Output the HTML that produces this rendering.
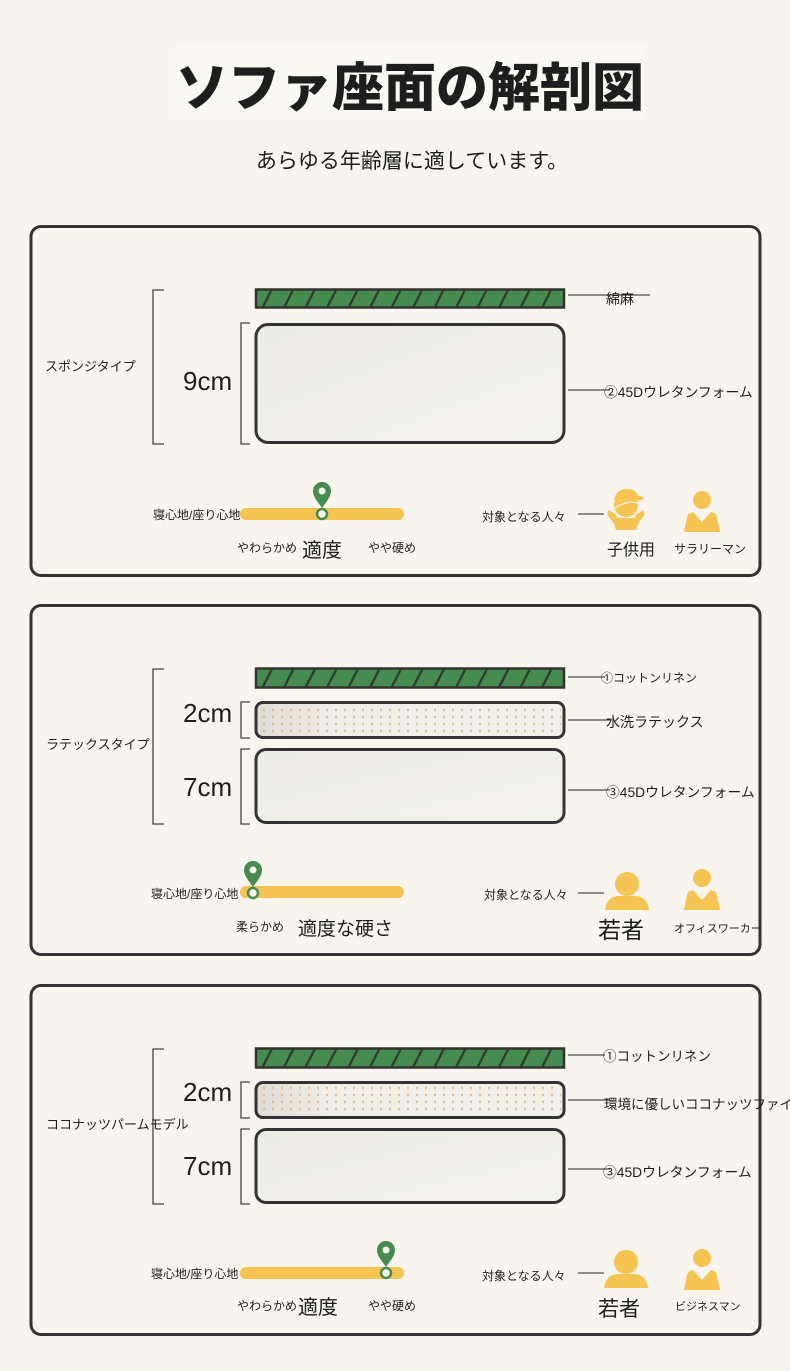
<!DOCTYPE html>
<html><head><meta charset="utf-8">
<style>
html,body{margin:0;padding:0;background:#f7f5ee;}
svg{display:block;}
text{font-family:"Liberation Sans","Noto Sans CJK JP",sans-serif;fill:#1e1e1e;}
</style></head><body>
<svg width="790" height="1371" viewBox="0 0 790 1371" xmlns="http://www.w3.org/2000/svg">
<defs>
<pattern id="stripe" x="0" y="0" width="21.5" height="40" patternUnits="userSpaceOnUse" patternTransform="skewX(-27)">
<rect width="21.5" height="40" fill="#478c4f"/>
<rect x="9.5" y="0" width="2.6" height="40" fill="#2f3a30"/>
</pattern>
<pattern id="dots" x="0" y="0" width="9" height="7" patternUnits="userSpaceOnUse">
<ellipse cx="3" cy="3" rx="1" ry="1.4" fill="#e2b98a"/>
</pattern>
<linearGradient id="foam" x1="0" y1="0" x2="1" y2="1">
<stop offset="0" stop-color="#ecebe5"/><stop offset="1" stop-color="#f3f2ec"/>
</linearGradient>
<linearGradient id="lat" x1="0" y1="0" x2="1" y2="0">
<stop offset="0" stop-color="#dedcd4"/><stop offset="0.25" stop-color="#f1efe9"/><stop offset="1" stop-color="#f2f0ea"/>
</linearGradient>
<g id="adult">
<circle cx="0" cy="-12" r="9" fill="#f5c452"/>
<path d="M-18 20 L-15 5 Q-14 1 -9 0 L0 10 L9 0 Q14 1 15 5 L18 20 Z" fill="#f5c452"/>
</g>
<g id="youth">
<circle cx="0" cy="-10" r="12" fill="#f5c452"/>
<path d="M-22 16 Q-20 2 -8 2 L8 2 Q20 2 22 16 Z" fill="#f5c452"/>
</g>
<g id="pin">
<path d="M0 0 C-4 -6 -9 -11 -9 -17 A9 9 0 0 1 9 -17 C9 -11 4 -6 0 0 Z" fill="#478c4f"/>
<circle cx="0" cy="-17" r="3.5" fill="#f7f5ee"/>
<circle cx="0" cy="6" r="5" fill="#f7f5ee" stroke="#478c4f" stroke-width="2.5"/>
</g>
</defs>

<!-- title -->
<rect x="175" y="45" width="470" height="75" fill="#f9f8f3"/>
<text x="410" y="106" font-size="52" font-weight="bold" text-anchor="middle" style="font-weight:900">ソファ座面の解剖図</text>
<text x="412" y="168" font-size="21" text-anchor="middle" fill="#333">あらゆる年齢層に適しています。</text>

<!-- panels -->
<rect x="31" y="226.5" width="729" height="349" rx="10" fill="none" stroke="#333" stroke-width="3"/>
<rect x="31" y="605.5" width="729" height="349" rx="10" fill="none" stroke="#333" stroke-width="3"/>
<rect x="31" y="985.5" width="729" height="349" rx="10" fill="none" stroke="#333" stroke-width="3"/>

<!-- ===== Panel 1 ===== -->
<path d="M164 290 H153 V444 H164" fill="none" stroke="#444" stroke-width="1.3"/>
<text x="45" y="371" font-size="13">スポンジタイプ</text>
<rect x="256" y="289.5" width="308" height="18" fill="url(#stripe)" stroke="#333" stroke-width="2.5"/>
<path d="M250 323 H241 V444 H250" fill="none" stroke="#444" stroke-width="1.3"/>
<rect x="256" y="324.5" width="308" height="118" rx="12" fill="url(#foam)" stroke="#333" stroke-width="3"/>
<text x="183" y="390" font-size="26">9cm</text>
<line x1="568" y1="295" x2="650" y2="295" stroke="#222" stroke-width="1"/>
<text x="606" y="304" font-size="14">綿麻</text>
<line x1="568" y1="390" x2="610" y2="390" stroke="#222" stroke-width="1"/>
<text x="604" y="397" font-size="13.8">②45Dウレタンフォーム</text>
<rect x="240" y="508" width="164" height="12" rx="6" fill="#f5c452"/>
<text x="153" y="519" font-size="12">寝心地/座り心地</text>
<use href="#pin" x="322" y="508"/>
<text x="237" y="552" font-size="12">やわらかめ</text>
<text x="302" y="557" font-size="20">適度</text>
<text x="368" y="552" font-size="12">やや硬め</text>
<text x="482" y="521" font-size="12">対象となる人々</text>
<line x1="578" y1="514" x2="604" y2="514" stroke="#222" stroke-width="1"/>
<g fill="#f5c452">
<circle cx="626" cy="505" r="12"/>
<path d="M614 500 Q616 489 627 489 Q636 489 638 496 L644 497 Q642 502 636 500 Z"/>
<path d="M609 510 L615 514 L618 518 L634 518 L637 514 L643 510 L645 514 L638 524 L636 530 L616 530 L614 524 L607 514 Z"/>
</g>
<path d="M615 508 Q626 500 638 503" fill="none" stroke="#f7f5ee" stroke-width="1.2"/>
<use href="#adult" x="702" y="512"/>
<text x="607" y="555" font-size="16">子供用</text>
<text x="674" y="553" font-size="12">サラリーマン</text>

<!-- ===== Panel 2 ===== -->
<path d="M164 669 H153 V824 H164" fill="none" stroke="#444" stroke-width="1.3"/>
<text x="46" y="749" font-size="13">ラテックスタイプ</text>
<rect x="256" y="668.5" width="308" height="19" fill="url(#stripe)" stroke="#333" stroke-width="2.5"/>
<path d="M250 702 H241 V738 H250" fill="none" stroke="#444" stroke-width="1.3"/>
<rect x="256" y="702.5" width="308" height="35" rx="7" fill="url(#lat)" stroke="#333" stroke-width="3"/>
<rect x="259" y="705" width="302" height="30" rx="5" fill="url(#dots)"/>
<path d="M250 749 H241 V824 H250" fill="none" stroke="#444" stroke-width="1.3"/>
<rect x="256" y="749.5" width="308" height="73" rx="10" fill="url(#foam)" stroke="#333" stroke-width="3"/>
<text x="183" y="722" font-size="26">2cm</text>
<text x="183" y="796" font-size="26">7cm</text>
<line x1="568" y1="677" x2="605" y2="677" stroke="#222" stroke-width="1"/>
<text x="601" y="682" font-size="12">①コットンリネン</text>
<line x1="568" y1="720" x2="610" y2="720" stroke="#222" stroke-width="1"/>
<text x="606" y="727" font-size="14">水洗ラテックス</text>
<line x1="568" y1="790" x2="610" y2="790" stroke="#222" stroke-width="1"/>
<text x="606" y="797" font-size="13.8">③45Dウレタンフォーム</text>
<rect x="240" y="886" width="164" height="12" rx="6" fill="#f5c452"/>
<text x="151" y="898" font-size="12">寝心地/座り心地</text>
<use href="#pin" x="253" y="887"/>
<text x="236" y="931" font-size="12">柔らかめ</text>
<text x="298" y="935" font-size="19">適度な硬さ</text>
<text x="484" y="899" font-size="12">対象となる人々</text>
<line x1="578" y1="893" x2="604" y2="893" stroke="#222" stroke-width="1"/>
<use href="#youth" x="627" y="894"/>
<use href="#adult" x="702" y="890"/>
<text x="598" y="938" font-size="23">若者</text>
<text x="674" y="932" font-size="11">オフィスワーカー</text>

<!-- ===== Panel 3 ===== -->
<path d="M164 1049 H153 V1204 H164" fill="none" stroke="#444" stroke-width="1.3"/>
<text x="46" y="1129" font-size="13">ココナッツパームモデル</text>
<rect x="256" y="1048.5" width="308" height="19" fill="url(#stripe)" stroke="#333" stroke-width="2.5"/>
<path d="M250 1082 H241 V1118 H250" fill="none" stroke="#444" stroke-width="1.3"/>
<rect x="256" y="1082.5" width="308" height="35" rx="7" fill="url(#lat)" stroke="#333" stroke-width="3"/>
<rect x="259" y="1085" width="302" height="30" rx="5" fill="url(#dots)"/>
<path d="M250 1129 H241 V1204 H250" fill="none" stroke="#444" stroke-width="1.3"/>
<rect x="256" y="1129.5" width="308" height="73" rx="10" fill="url(#foam)" stroke="#333" stroke-width="3"/>
<text x="183" y="1101" font-size="26">2cm</text>
<text x="183" y="1175" font-size="26">7cm</text>
<line x1="568" y1="1055" x2="605" y2="1055" stroke="#222" stroke-width="1"/>
<text x="603" y="1061" font-size="13.5">①コットンリネン</text>
<line x1="568" y1="1100" x2="610" y2="1100" stroke="#222" stroke-width="1"/>
<text x="604" y="1109" font-size="13.5">環境に優しいココナッツファイバー</text>
<line x1="568" y1="1169" x2="610" y2="1169" stroke="#222" stroke-width="1"/>
<text x="603" y="1177" font-size="13.8">③45Dウレタンフォーム</text>
<rect x="240" y="1267" width="164" height="12" rx="6" fill="#f5c452"/>
<text x="151" y="1278" font-size="12">寝心地/座り心地</text>
<use href="#pin" x="386" y="1267"/>
<text x="237" y="1310" font-size="12">やわらかめ</text>
<text x="298" y="1314" font-size="20">適度</text>
<text x="368" y="1310" font-size="12">やや硬め</text>
<text x="482" y="1280" font-size="12">対象となる人々</text>
<line x1="578" y1="1273" x2="604" y2="1273" stroke="#222" stroke-width="1"/>
<use href="#youth" x="626" y="1272"/>
<use href="#adult" x="702" y="1270"/>
<text x="598" y="1316" font-size="21">若者</text>
<text x="675" y="1310" font-size="11">ビジネスマン</text>
</svg>
</body></html>
